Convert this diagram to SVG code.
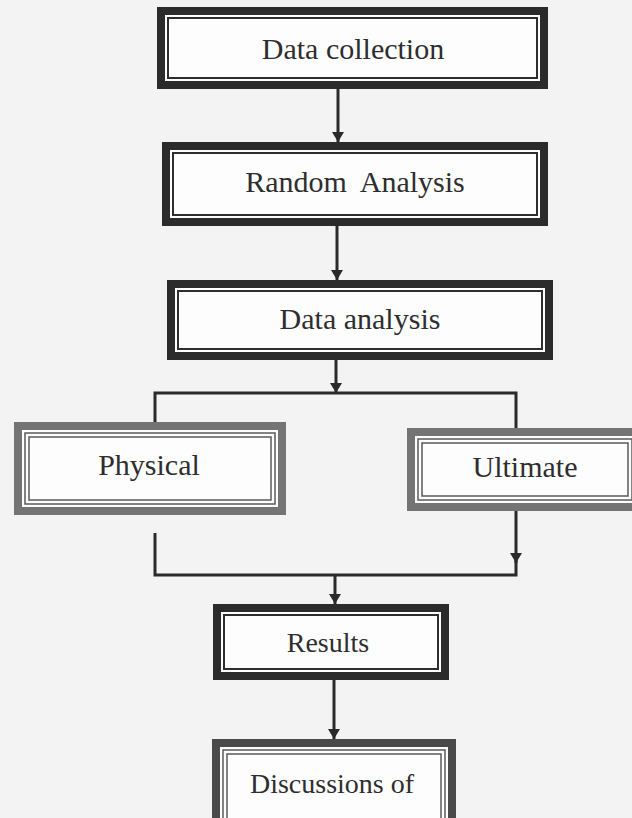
<svg xmlns="http://www.w3.org/2000/svg" width="632" height="818" viewBox="0 0 632 818">
<defs>
<marker id="ah" viewBox="0 0 10 12" refX="10" refY="6" markerWidth="10" markerHeight="12" markerUnits="userSpaceOnUse" orient="auto">
<path d="M0,0 L10,6 L0,12 Z" fill="#2a2a2a"/>
</marker>
<style>
.bg{fill:#f3f3f3}
.dark{fill:#fdfdfd;stroke:#2b2b2b;stroke-width:8}
.gray{fill:#fdfdfd;stroke:#747474;stroke-width:8}
.mid{fill:#fdfdfd;stroke:#4a4a4a;stroke-width:8}
.in{fill:none;stroke:#2e2e2e;stroke-width:2}
.ing{fill:none;stroke:#5a5a5a;stroke-width:1.5}
.lbl{fill:#2e2e2e;text-anchor:middle}
.f30{font-size:30px}
.f28{font-size:28px}
.ln{fill:none;stroke:#2a2a2a;stroke-width:3}
</style>
</defs>
<rect class="bg" x="0" y="0" width="632" height="818"/>

<g id="connectors">
<line class="ln" x1="338" y1="89" x2="338" y2="142" marker-end="url(#ah)"/>
<line class="ln" x1="337" y1="226" x2="337" y2="280" marker-end="url(#ah)"/>
<line class="ln" x1="336" y1="360" x2="336" y2="393" marker-end="url(#ah)"/>
<polyline class="ln" points="155,422 155,393 516,393 516,428"/>
<line class="ln" x1="516" y1="511" x2="516" y2="563" marker-end="url(#ah)"/>
<polyline class="ln" points="516,560 516,575 155,575 155,533"/>
<line class="ln" x1="335" y1="575" x2="335" y2="604" marker-end="url(#ah)"/>
<line class="ln" x1="334" y1="680" x2="334" y2="739" marker-end="url(#ah)"/>
</g>

<g font-family="'Liberation Serif', 'Times New Roman', 'DejaVu Serif', serif">
<g id="data-collection">
<rect class="dark" x="161" y="11" width="383" height="74"/>
<rect class="in" x="168" y="18" width="369" height="60"/>
<text class="lbl f30" x="353" y="59">Data collection</text>
</g>

<g id="random-analysis">
<rect class="dark" x="166" y="146" width="378" height="76"/>
<rect class="in" x="173" y="153" width="364" height="62"/>
<text class="lbl f30" x="355" y="192" word-spacing="7">Random Analysis</text>
</g>

<g id="data-analysis">
<rect class="dark" x="171" y="284" width="378" height="72"/>
<rect class="in" x="178" y="291" width="364" height="58"/>
<text class="lbl f30" x="360" y="329">Data analysis</text>
</g>

<g id="physical">
<rect class="gray" x="18" y="426" width="264" height="85"/>
<rect class="ing" x="25" y="433" width="250" height="71"/>
<rect class="ing" x="29" y="437" width="242" height="63"/>
<text class="lbl f30" x="149" y="475">Physical</text>
</g>

<g id="ultimate">
<rect class="gray" x="411" y="432" width="228" height="75"/>
<rect class="ing" x="418" y="439" width="214" height="61"/>
<rect class="ing" x="422" y="443" width="206" height="53"/>
<text class="lbl f30" x="525" y="477">Ultimate</text>
</g>

<g id="results">
<rect class="dark" x="217" y="608" width="228" height="68"/>
<rect class="in" x="224" y="615" width="214" height="54"/>
<text class="lbl f28" x="328" y="652">Results</text>
</g>

<g id="discussions">
<rect class="mid" x="216" y="743" width="236" height="93"/>
<rect class="ing" x="223" y="750" width="222" height="79"/>
<rect class="ing" x="227" y="754" width="214" height="71"/>
<text class="lbl f28" x="332" y="793">Discussions of</text>
</g>
</g>
</svg>
